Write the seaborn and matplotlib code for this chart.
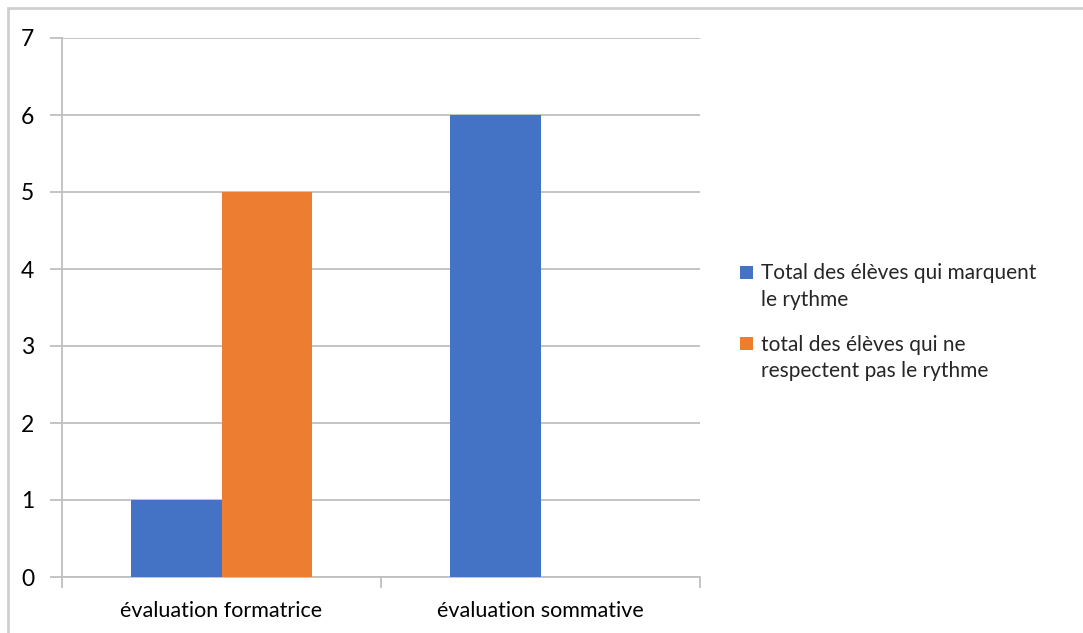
import matplotlib
matplotlib.use("Agg")
import matplotlib.pyplot as plt
from matplotlib.patches import Rectangle
from matplotlib.legend_handler import HandlerPatch
import seaborn as sns
import pandas as pd

categories = ["évaluation formatrice", "évaluation sommative"]
series_names = ["Total des élèves qui marquent\nle rythme",
                "total des élèves qui ne\nrespectent pas le rythme"]
marquent = [1, 6]
ne_respectent_pas = [5, 0]
y_ticks = [0, 1, 2, 3, 4, 5, 6, 7]

colors = ["#4472C4", "#ED7D31"]
grid_color = "#bfbfbf"
legend_size = 15
legend_linespacing = 1.4


class FirstLineSquare(HandlerPatch):
    """Square legend key placed beside the first line of a two-line label."""

    def create_artists(self, legend, orig_handle, xdescent, ydescent,
                       width, height, fontsize, trans):
        side = 0.62 * fontsize
        shift = 0.5 * fontsize * legend_linespacing
        p = Rectangle((-xdescent, -ydescent + (height - side) / 2 + shift),
                      side, side, facecolor=orig_handle.get_facecolor(),
                      edgecolor="none", transform=trans)
        return [p]


sns.set_theme(style="white")
plt.rcParams["font.family"] = ["Lato", "DejaVu Sans"]

df = pd.DataFrame({
    "catégorie": categories * 2,
    "série": [series_names[0]] * 2 + [series_names[1]] * 2,
    "valeur": marquent + ne_respectent_pas,
})

fig = plt.figure(figsize=(10.83, 6.33), dpi=100)
ax = fig.add_axes([62 / 1083, 1 - 577 / 633, (700 - 62) / 1083, (577 - 38) / 633])

sns.barplot(data=df, x="catégorie", y="valeur", hue="série", order=categories,
            hue_order=series_names, palette=colors, saturation=1, width=0.57,
            linewidth=0, edgecolor="none", ax=ax, zorder=3)

ax.set_xlim(-0.5, 1.5)
ax.set_ylim(0, 7)
ax.set_yticks(y_ticks)
ax.set_xlabel("")
ax.set_ylabel("")

# horizontal gridlines, extended outward as tick marks
ax.yaxis.grid(True, color=grid_color, linewidth=1.3, zorder=0)
ax.tick_params(axis="y", which="major", length=9, width=1.3, color=grid_color,
               direction="out", pad=11, labelsize=16.5, labelcolor="#000000",
               left=True)
ax.set_xticks([0, 1])
ax.set_xticklabels(categories)
ax.tick_params(axis="x", which="major", length=0, pad=17, labelsize=15.5,
               labelcolor="#000000")
ax.set_xticks([-0.5, 0.5, 1.5], minor=True)
ax.tick_params(axis="x", which="minor", length=8, width=1.3, color=grid_color,
               direction="out", bottom=True)

for side in ["top", "right"]:
    ax.spines[side].set_visible(False)
for side in ["left", "bottom"]:
    ax.spines[side].set_color(grid_color)
    ax.spines[side].set_linewidth(1.3)

handles, labels = ax.get_legend_handles_labels()
leg = ax.legend(handles, labels, loc="center left",
                bbox_to_anchor=(721 / 1083, 1 - 322 / 633),
                bbox_transform=fig.transFigure, frameon=False,
                fontsize=legend_size, handlelength=0.62, handleheight=0.62,
                handletextpad=0.4, labelspacing=1.2,
                handler_map={h: FirstLineSquare() for h in handles})
for t in leg.get_texts():
    t.set_linespacing(legend_linespacing)

# chart area frame
fig.patches.append(Rectangle((8 / 1083, -0.1), 1.2, 1.1 - 8 / 633,
                             transform=fig.transFigure, fill=False,
                             edgecolor="#cfcfcf", linewidth=2))

fig.savefig("out.png", dpi=100)
